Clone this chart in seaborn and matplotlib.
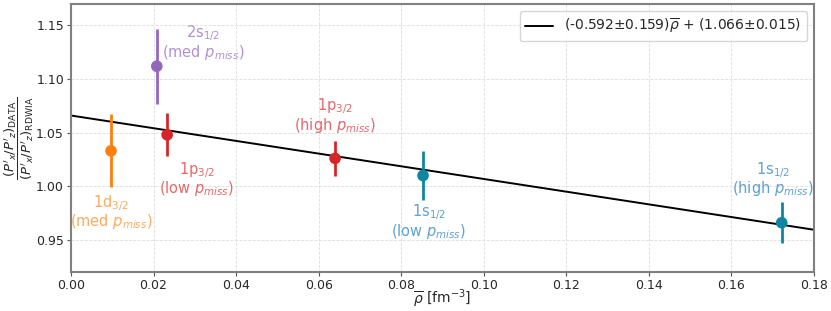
import numpy as np
import pandas as pd
import matplotlib
matplotlib.use("Agg")
import matplotlib.pyplot as plt
import seaborn as sns

# data
states = ["1d3/2 med", "2s1/2 med", "1p3/2 low", "1p3/2 high", "1s1/2 low", "1s1/2 high"]
rho = [0.0097, 0.0208, 0.0233, 0.0640, 0.0853, 0.1722]
ratio = [1.033, 1.112, 1.048, 1.026, 1.010, 0.966]
err = [0.034, 0.035, 0.020, 0.016, 0.023, 0.019]
labels = [r"1d$_{3/2}$" "\n" r"(med $p_{miss}$)",
          r"2s$_{1/2}$" "\n" r"(med $p_{miss}$)",
          r"1p$_{3/2}$" "\n" r"(low $p_{miss}$)",
          r"1p$_{3/2}$" "\n" r"(high $p_{miss}$)",
          r"1s$_{1/2}$" "\n" r"(low $p_{miss}$)",
          r"1s$_{1/2}$" "\n" r"(high $p_{miss}$)"]
label_x = [0.0097, 0.0320, 0.0305, 0.0640, 0.0867, 0.1700]
label_y = [0.976, 1.134, 1.007, 1.066, 0.967, 1.007]
fit_slope, fit_slope_err = -0.592, 0.159
fit_const, fit_const_err = 1.066, 0.015

point_colors = ["#ff7f0e", "#9467bd", "#d62728", "#d62728", "#0e86a3", "#0e86a3"]
text_colors = ["#ffa95c", "#b28fd6", "#e8676b", "#e8676b", "#5fa1d0", "#5fa1d0"]

df = pd.DataFrame({"state": states, "rho": rho, "ratio": ratio, "err": err})

sns.set_style("whitegrid")
plt.rcParams["font.family"] = ["DejaVu Sans"]

fig = plt.figure(figsize=(8.31, 3.11), dpi=100)
ax = fig.add_axes([0.0854, 0.1254, 0.894, 0.8616])

# fit line
xfit = np.array([0.0, 0.18])
fit_df = pd.DataFrame({"x": xfit, "y": fit_slope * xfit + fit_const})
sns.lineplot(data=fit_df, x="x", y="y", color="black", lw=1.4, ax=ax,
             label=r"(%.3f$\pm$%.3f)$\overline{\rho}$ + (%.3f$\pm$%.3f)"
             % (fit_slope, fit_slope_err, fit_const, fit_const_err))

for i, row in df.iterrows():
    ax.errorbar(row["rho"], row["ratio"], yerr=row["err"], fmt="none",
                ecolor=point_colors[i], elinewidth=2, capsize=0, zorder=3)
sns.scatterplot(data=df, x="rho", y="ratio", hue="state", palette=point_colors,
                s=70, edgecolor="none", legend=False, ax=ax, zorder=4)

for lx, ly, t, c in zip(label_x, label_y, labels, text_colors):
    ax.text(lx, ly, t, color=c, fontsize=10.5, ha="center", va="center",
            linespacing=0.95)

ax.set_xlim(0, 0.18)
ax.set_ylim(0.92, 1.17)
ax.set_xticks(np.arange(0, 0.181, 0.02))
ax.set_yticks([0.95, 1.00, 1.05, 1.10, 1.15])
ax.xaxis.set_major_formatter(matplotlib.ticker.FormatStrFormatter("%.2f"))
ax.yaxis.set_major_formatter(matplotlib.ticker.FormatStrFormatter("%.2f"))
ax.tick_params(labelsize=9, length=3, width=0.8, color="#555555", pad=2,
               direction="out", left=True, bottom=True)
ax.grid(True, color="#dddddd", ls="--", lw=0.6)
for s in ax.spines.values():
    s.set_color("gray")
    s.set_linewidth(1.5)
ax.set_xlabel(r"$\overline{\rho}$ [fm$^{-3}$]", fontsize=10, labelpad=-3)
ax.set_ylabel(r"$\dfrac{(P'_x/P'_z)_{\rm DATA}}{(P'_x/P'_z)_{\rm RDWIA}}$",
              fontsize=9.5, labelpad=0)
ax.legend(loc="upper right", fontsize=10, frameon=True, handlelength=2)

fig.savefig("out.png", dpi=100)
